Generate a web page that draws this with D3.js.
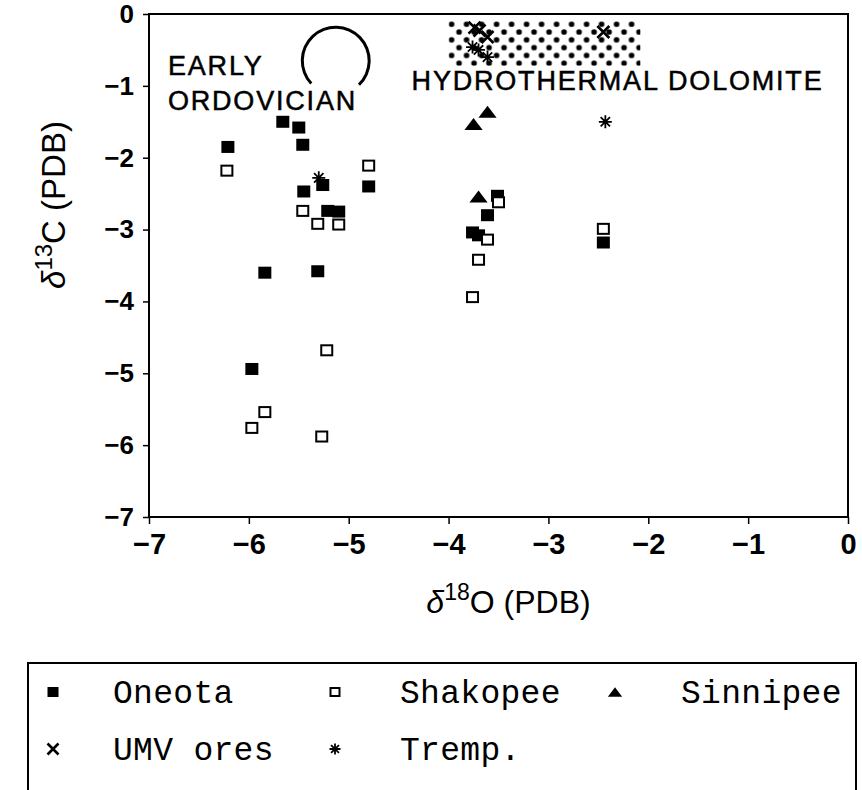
<!DOCTYPE html>
<html>
<head>
<meta charset="utf-8">
<script src="https://cdn.jsdelivr.net/npm/d3@7"></script>
<style>
body { margin: 0; background: #fff; }
svg { display: block; }
</style>
</head>
<body>
<div id="chart"></div>
<script>
// d18O / d13C values
var oneotaX = [-6.21, -5.66, -5.50, -5.46, -5.45, -5.26, -4.80, -5.21, -5.10, -5.84, -5.31, -5.97, -3.51, -3.61, -3.76, -3.70, -2.45];
var oneotaY = [-1.85, -1.50, -1.58, -1.82, -2.47, -2.38, -2.40, -2.74, -2.75, -3.60, -3.58, -4.94, -2.53, -2.80, -3.04, -3.08, -3.18];
var shakopeeX = [-6.22, -4.80, -5.46, -5.31, -5.10, -5.22, -5.84, -5.97, -5.27, -3.50, -3.61, -3.70, -3.76, -2.45];
var shakopeeY = [-2.18, -2.11, -2.74, -2.92, -2.93, -4.68, -5.54, -5.76, -5.88, -2.62, -3.14, -3.42, -3.94, -2.99];
var sinnipeeX = [-3.75, -3.61, -3.70];
var sinnipeeY = [-1.53, -1.36, -2.54];
var umvX = [-3.74, -3.69, -3.61, -2.45];
var umvY = [-0.19, -0.23, -0.32, -0.25];
var trempX = [-3.76, -3.70, -3.61, -2.43, -5.30];
var trempY = [-0.46, -0.50, -0.60, -1.50, -2.28];

var xTicks = [-7, -6, -5, -4, -3, -2, -1, 0];
var yTicks = [0, -1, -2, -3, -4, -5, -6, -7];

// hydrothermal dolomite field and early ordovician circle
var hydroX = [-4.0, -2.08];
var hydroY = [-0.1, -0.72];
var ordoCenter = [-5.13, -0.65];

var legendNames = ["Oneota", "Shakopee", "Sinnipee", "UMV ores", "Tremp."];
var legendSyms = ["fill", "open", "tri", "cross", "star"];

var width = 862, height = 790;
var margin = {top: 14, left: 149, right: 14, bottom: 273};

var svg = d3.select("#chart").append("svg")
    .attr("width", width).attr("height", height);

var xScale = d3.scaleLinear().domain([-7, 0]).range([margin.left, width - margin.right]);
var yScale = d3.scaleLinear().domain([0, -7]).range([margin.top, height - margin.bottom]);

// dotted pattern
var defs = svg.append("defs");
var pat = defs.append("pattern")
    .attr("id", "dots")
    .attr("patternUnits", "userSpaceOnUse")
    .attr("x", xScale(hydroX[0]) + 3).attr("y", yScale(hydroY[0]) + 3)
    .attr("width", 15).attr("height", 15.6);
[[0, 0], [7.5, 7.8], [15, 0], [0, 15.6], [15, 15.6]].forEach(function(p) {
    pat.append("circle").attr("cx", p[0]).attr("cy", p[1]).attr("r", 2.8);
});

svg.append("rect")
    .attr("x", xScale(hydroX[0]))
    .attr("y", yScale(hydroY[0]))
    .attr("width", xScale(hydroX[1]) - xScale(hydroX[0]))
    .attr("height", yScale(hydroY[1]) - yScale(hydroY[0]))
    .attr("fill", "url(#dots)");

// frame
svg.append("rect")
    .attr("x", xScale(-7)).attr("y", yScale(0))
    .attr("width", xScale(0) - xScale(-7))
    .attr("height", yScale(-7) - yScale(0))
    .attr("fill", "none").attr("stroke", "#000").attr("stroke-width", 2);

// axes
var yAxis = d3.axisLeft(yScale).tickValues(yTicks).tickSize(6).tickPadding(9)
    .tickFormat(d3.format("d"));
var gy = svg.append("g").attr("transform", "translate(" + xScale(-7) + ",0)").call(yAxis);
gy.select(".domain").remove();
gy.selectAll("line").attr("stroke-width", 1.5);
gy.selectAll("text").style("font-family", "'Liberation Sans', Arial, sans-serif")
    .style("font-size", "26px").style("font-weight", "bold").attr("fill", "#000");

var xAxis = d3.axisBottom(xScale).tickValues(xTicks).tickSize(7).tickPadding(9)
    .tickFormat(d3.format("d"));
var gx = svg.append("g").attr("transform", "translate(0," + yScale(-7) + ")").call(xAxis);
gx.select(".domain").remove();
gx.selectAll("line").attr("stroke-width", 1.5);
gx.selectAll("text").style("font-family", "'Liberation Sans Narrow', 'Liberation Sans', Arial, sans-serif")
    .style("font-size", "29px").style("font-weight", "bold").attr("fill", "#000");

// axis titles
var xt = svg.append("text")
    .attr("x", (xScale(-7) + xScale(0)) / 2 + 10)
    .attr("y", 613)
    .attr("text-anchor", "middle")
    .style("font-family", "'Liberation Sans', Arial, sans-serif")
    .style("font-size", "32px");
xt.append("tspan").text("δ").style("font-style", "italic");
xt.append("tspan").text("18").attr("dy", -13).style("font-size", "23px");
xt.append("tspan").text("O (PDB)").attr("dy", 13);

var yt = svg.append("text")
    .attr("transform", "translate(65,205) rotate(-90)")
    .attr("text-anchor", "middle")
    .style("font-family", "'Liberation Sans', Arial, sans-serif")
    .style("font-size", "33px");
yt.append("tspan").text("δ").style("font-style", "italic");
yt.append("tspan").text("13").attr("dy", -13).style("font-size", "24px");
yt.append("tspan").text("C (PDB)").attr("dy", 13);

// annotations
var annot = svg.append("g")
    .style("font-family", "'Liberation Sans', Arial, sans-serif")
    .style("font-size", "27px").style("letter-spacing", "1.8px")
    .attr("stroke", "#000").attr("stroke-width", 0.5);
annot.append("text").attr("x", xScale(-6.81)).attr("y", yScale(-0.85)).text("EARLY");
annot.append("text").attr("x", xScale(-6.81)).attr("y", yScale(-1.33)).text("ORDOVICIAN");
annot.append("text").attr("x", xScale(-4.37)).attr("y", yScale(-1.06)).text("HYDROTHERMAL DOLOMITE");

var r = xScale(-7 + 0.335) - xScale(-7);
var arc = d3.arc().innerRadius(r - 1.5).outerRadius(r + 1.5)
    .startAngle(227 * Math.PI / 180).endAngle(496 * Math.PI / 180);
svg.append("path")
    .attr("transform", "translate(" + xScale(ordoCenter[0]) + "," + yScale(ordoCenter[1]) + ")")
    .attr("d", arc()).attr("fill", "#000");

// marker drawing
function drawSym(g, kind, cx, cy, s) {
    if (kind == "fill") {
        g.append("rect").attr("x", cx - s / 2).attr("y", cy - s / 2 + 0.5)
            .attr("width", s).attr("height", s - 1).attr("fill", "#000");
    } else if (kind == "open") {
        g.append("rect").attr("x", cx - s / 2 + 1).attr("y", cy - s / 2 + 1.5)
            .attr("width", s - 2).attr("height", s - 3)
            .attr("fill", "#fff").attr("stroke", "#000").attr("stroke-width", 2);
    } else if (kind == "tri") {
        var h = s * 0.85;
        g.append("path").attr("d", "M" + (cx - s * 0.65) + "," + (cy + h / 2) +
            "L" + (cx + s * 0.65) + "," + (cy + h / 2) + "L" + cx + "," + (cy - h / 2) + "Z")
            .attr("fill", "#000");
    } else if (kind == "cross") {
        var a = s / 2;
        g.append("path").attr("d", "M" + (cx - a) + "," + (cy - a) + "L" + (cx + a) + "," + (cy + a) +
            "M" + (cx - a) + "," + (cy + a) + "L" + (cx + a) + "," + (cy - a))
            .attr("stroke", "#000").attr("stroke-width", 2.6).attr("fill", "none");
    } else if (kind == "star") {
        var b = s / 2, c = s * 0.36;
        g.append("path").attr("d", "M" + (cx - b) + "," + cy + "L" + (cx + b) + "," + cy +
            "M" + cx + "," + (cy - b) + "L" + cx + "," + (cy + b) +
            "M" + (cx - c) + "," + (cy - c) + "L" + (cx + c) + "," + (cy + c) +
            "M" + (cx - c) + "," + (cy + c) + "L" + (cx + c) + "," + (cy - c))
            .attr("stroke", "#000").attr("stroke-width", 1.8).attr("fill", "none");
    }
}

var marks = svg.append("g");
oneotaX.forEach(function(v, i) { drawSym(marks, "fill", xScale(v), yScale(oneotaY[i]), 13); });
shakopeeX.forEach(function(v, i) { drawSym(marks, "open", xScale(v), yScale(shakopeeY[i]), 13); });
sinnipeeX.forEach(function(v, i) { drawSym(marks, "tri", xScale(v), yScale(sinnipeeY[i]), 14); });
umvX.forEach(function(v, i) { drawSym(marks, "cross", xScale(v), yScale(umvY[i]), 12); });
trempX.forEach(function(v, i) { drawSym(marks, "star", xScale(v), yScale(trempY[i]), 13); });

// legend
var lg = svg.append("g");
lg.append("rect").attr("x", 28).attr("y", 663).attr("width", 828).attr("height", 200)
    .attr("fill", "none").attr("stroke", "#000").attr("stroke-width", 2);
var colMark = [53, 335, 615], colText = [113, 400, 681];
legendNames.forEach(function(name, i) {
    var col = i % 3, row = Math.floor(i / 3);
    var cy = 692 + row * 57;
    drawSym(lg, legendSyms[i], colMark[col], cy, 11);
    lg.append("text").attr("x", colText[col]).attr("y", cy + 11).text(name)
        .style("font-family", "'Liberation Mono', 'Courier New', monospace")
        .style("font-size", "33px").style("letter-spacing", "0.3px");
});
</script>
</body>
</html>
